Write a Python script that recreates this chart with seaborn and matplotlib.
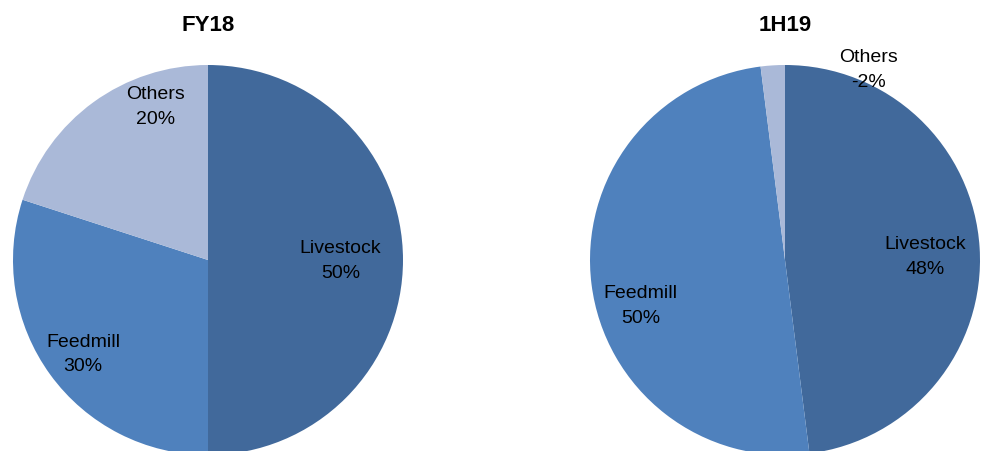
import matplotlib
matplotlib.use("Agg")
import matplotlib.pyplot as plt
import seaborn as sns

# Data
segments = ["Livestock", "Feedmill", "Others"]
fy18_share = [50, 30, 20]
h119_share = [48, 50, 2]
fy18_label = [50, 30, 20]
h119_label = [48, 50, -2]   # reported as negative, drawn by magnitude
titles = ["FY18", "1H19"]

colors = ["#41699B", "#4F81BD", "#AAB9D8"]

sns.set_theme(style="white")
plt.rcParams["font.family"] = ["Liberation Sans", "DejaVu Sans"]
plt.rcParams["text.color"] = "black"

W, H = 983, 452
fig = plt.figure(figsize=(W / 100, H / 100), dpi=100)

R = 195
# pie centre positions in pixels and label offsets (in radius units)
centres = [(208, 261), (785, 261)]
label_pos = [
    [(0.68, 0.0), (-0.64, -0.48), (-0.27, 0.79)],
    [(0.72, 0.02), (-0.74, -0.23), (0.43, 0.98)],
]

for i, (shares, pcts) in enumerate([(fy18_share, fy18_label), (h119_share, h119_label)]):
    cx, cy = centres[i]
    ax = fig.add_axes([(cx - R) / W, (H - cy - R) / H, 2 * R / W, 2 * R / H])
    ax.pie(shares, colors=colors, startangle=90, counterclock=False,
           radius=1, wedgeprops=dict(linewidth=0))
    ax.set_xlim(-1, 1)
    ax.set_ylim(-1, 1)
    ax.set_aspect("equal")
    ax.axis("off")
    for seg, p, (lx, ly) in zip(segments, pcts, label_pos[i]):
        ax.text(lx, ly, f"{seg}\n{p}%", ha="center", va="center",
                fontsize=14, color="black", linespacing=1.6, clip_on=False)
    ax.text(0, (cy - 25) / R, titles[i], ha="center", va="center",
            fontsize=16, fontweight="bold", color="black", clip_on=False)

fig.savefig("out.png", dpi=100)
